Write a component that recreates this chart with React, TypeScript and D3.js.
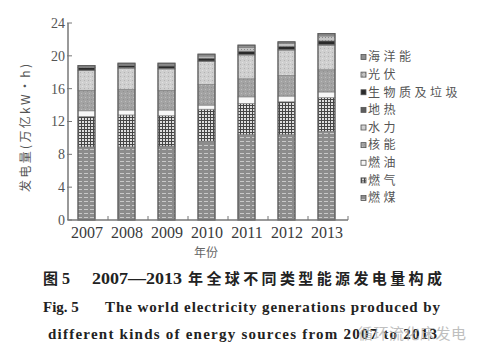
import React from 'react'
import * as d3 from 'd3'

// years and generation by source (万亿kW·h)
const years = ['2007', '2008', '2009', '2010', '2011', '2012', '2013']
const coal = [8.9, 8.9, 9.0, 9.6, 10.4, 10.4, 10.8]
const gas = [3.7, 3.9, 3.7, 3.9, 3.8, 4.0, 4.1]
const oil = [0.7, 0.6, 0.7, 0.5, 0.8, 0.7, 0.7]
const nuclear = [2.5, 2.5, 2.4, 2.5, 2.2, 2.5, 2.7]
const hydro = [2.4, 2.6, 2.6, 2.8, 2.9, 3.1, 3.0]
const geothermal = [0.06, 0.06, 0.07, 0.07, 0.07, 0.07, 0.07]
const biomass = [0.3, 0.3, 0.3, 0.35, 0.4, 0.4, 0.45]
const solar = [0.05, 0.06, 0.1, 0.25, 0.45, 0.35, 0.6]
const ocean = [0.19, 0.18, 0.23, 0.23, 0.28, 0.18, 0.28]

// bottom to top
const seriesKeys = ['coal', 'gas', 'oil', 'nuclear', 'hydro', 'geothermal', 'biomass', 'solar', 'ocean']
const seriesNames = ['燃煤', '燃气', '燃油', '核能', '水力', '地热', '生物质及垃圾', '光伏', '海洋能']
const seriesValues = [coal, gas, oil, nuclear, hydro, geothermal, biomass, solar, ocean]
const yTicks = [0, 4, 8, 12, 16, 20, 24]

const fills: Record<string, string> = {
  coal: 'url(#pCoal)',
  gas: 'url(#pGas)',
  oil: '#f7f7f7',
  nuclear: 'url(#pNuclear)',
  hydro: 'url(#pHydro)',
  geothermal: '#5e5e5e',
  biomass: '#2b2b2b',
  solar: 'url(#pSolar)',
  ocean: '#8e8e8e',
}

const serif = '"Liberation Serif", "DejaVu Serif", serif'
const cjk = '"Noto Sans CJK SC", sans-serif'

export default function App() {
  const rows = years.map((y, i) => {
    const r: Record<string, any> = { year: y }
    seriesKeys.forEach((k, j) => { r[k] = seriesValues[j][i] })
    return r
  })
  const stacked = d3.stack().keys(seriesKeys)(rows as any)

  const x = d3.scaleBand().domain(years).range([68, 348])
  const y = d3.scaleLinear().domain([0, 24]).range([220, 23])
  const barW = 17
  const barX = (yr: string) => (x(yr) as number) + x.bandwidth() / 2 - barW / 2 - 1.5

  const legendY = d3.scaleLinear().domain([0, 8]).range([57, 198])
  const legendOrder = [...seriesKeys].reverse()

  return (
    <svg width={500} height={360} style={{ position: 'absolute', left: 0, top: 0, background: '#fff' }}>
      <defs>
        <pattern id="pCoal" width={6} height={4} patternUnits="userSpaceOnUse">
          <rect width={6} height={4} fill="#8c8c8c" />
          <line x1={0} x2={6} y1={1.5} y2={1.5} stroke="#c9c9c9" strokeWidth={1} strokeDasharray="4 2" />
        </pattern>
        <pattern id="pGas" width={3} height={3} patternUnits="userSpaceOnUse">
          <rect width={3} height={3} fill="#dedede" />
          <line x1={0.5} x2={0.5} y1={0} y2={3} stroke="#454545" strokeWidth={1} />
          <line x1={0} x2={3} y1={0.5} y2={0.5} stroke="#454545" strokeWidth={1} />
        </pattern>
        <pattern id="pNuclear" width={4} height={4} patternUnits="userSpaceOnUse">
          <rect width={4} height={4} fill="#a3a3a3" />
          <rect x={1} y={1} width={1} height={1} fill="#bdbdbd" />
          <rect x={3} y={3} width={1} height={1} fill="#909090" />
        </pattern>
        <pattern id="pHydro" width={4} height={4} patternUnits="userSpaceOnUse">
          <rect width={4} height={4} fill="#cfcfcf" />
          <rect x={0} y={0} width={1} height={1} fill="#b3b3b3" />
          <rect x={2} y={2} width={1} height={1} fill="#e2e2e2" />
        </pattern>
        <pattern id="pSolar" width={3} height={3} patternUnits="userSpaceOnUse">
          <rect width={3} height={3} fill="#c4c4c4" />
          <rect x={1} y={1} width={1} height={1} fill="#8a8a8a" />
        </pattern>
      </defs>

      {/* y axis label */}
      <text
        transform="translate(30,128) rotate(-90)"
        textAnchor="middle"
        fontFamily={cjk}
        fontSize={12}
        fill="#555"
        textLength={128}
        lengthAdjust="spacing"
      >
        发电量(万亿kW·h)
      </text>

      {/* bars */}
      {stacked.map((s) => (
        <g key={s.key}>
          {s.map((d, i) => (
            <rect
              key={i}
              x={barX(years[i])}
              y={y(d[1])}
              width={barW}
              height={Math.max(0, y(d[0]) - y(d[1]))}
              fill={fills[s.key]}
              stroke="#7a7a7a"
              strokeWidth={0.6}
            />
          ))}
        </g>
      ))}
      {years.map((yr, i) => {
        const top = stacked[stacked.length - 1][i][1]
        return (
          <rect
            key={yr}
            x={barX(yr)}
            y={y(top)}
            width={barW}
            height={y(0) - y(top)}
            fill="none"
            stroke="#5c5c5c"
            strokeWidth={1.2}
          />
        )
      })}

      {/* axes */}
      <line x1={68} x2={68} y1={y(0)} y2={y(24)} stroke="#777" strokeWidth={1.5} />
      <line x1={68} x2={348} y1={y(0)} y2={y(0)} stroke="#777" strokeWidth={1.5} />
      {yTicks.map((t) => (
        <g key={t}>
          <line x1={67} x2={72} y1={y(t)} y2={y(t)} stroke="#777" strokeWidth={1} />
          <text x={65} y={y(t)} dy="0.35em" textAnchor="end" fontFamily={serif} fontSize={14} fill="#555">
            {t}
          </text>
        </g>
      ))}
      {years.map((yr) => (
        <line
          key={yr}
          x1={(x(yr) as number) + x.bandwidth()}
          x2={(x(yr) as number) + x.bandwidth()}
          y1={y(0)}
          y2={y(0) - 4}
          stroke="#777"
          strokeWidth={1}
        />
      ))}
      {years.map((yr) => (
        <text
          key={yr}
          x={(x(yr) as number) + x.bandwidth() / 2 - 1}
          y={238}
          textAnchor="middle"
          fontFamily={serif}
          fontSize={16}
          fill="#3a3a3a"
        >
          {yr}
        </text>
      ))}
      <text x={206} y={257} textAnchor="middle" fontFamily={cjk} fontSize={12} fill="#666">
        年份
      </text>

      {/* legend */}
      {legendOrder.map((k, i) => (
        <g key={k} transform={`translate(361,${legendY(i)})`}>
          <rect x={0} y={-2.5} width={5} height={5} fill={fills[k]} stroke="#555" strokeWidth={0.8} />
          <text x={7} y={0} dy="0.36em" fontFamily={cjk} fontSize={12} fill="#555" letterSpacing={3.5}>
            {seriesNames[seriesKeys.indexOf(k)]}
          </text>
        </g>
      ))}

      {/* caption */}
      <g fill="#222" fontWeight="bold">
        <text x={43} y={284} fontFamily={cjk} fontSize={15}>图</text>
        <text x={62} y={284} fontFamily={serif} fontSize={16}>5</text>
        <text x={92} y={284} fontFamily={serif} fontSize={16} textLength={90} lengthAdjust="spacingAndGlyphs">
          2007—2013
        </text>
        <text x={188} y={284} fontFamily={cjk} fontSize={15} textLength={254} lengthAdjust="spacing">
          年全球不同类型能源发电量构成
        </text>
        <text x={43} y={312} fontFamily={serif} fontSize={15}>Fig. 5</text>
        <text x={105} y={312} fontFamily={serif} fontSize={15} textLength={335} lengthAdjust="spacing">
          The world electricity generations produced by
        </text>
        <text x={48} y={339} fontFamily={serif} fontSize={15} textLength={389} lengthAdjust="spacing">
          different kinds of energy sources from 2007 to 2013
        </text>
      </g>
      <text x={358} y={339} fontFamily={cjk} fontSize={15} fill="#aaa" opacity={0.75} letterSpacing={0.5}>
        循环流化床发电
      </text>
    </svg>
  )
}
